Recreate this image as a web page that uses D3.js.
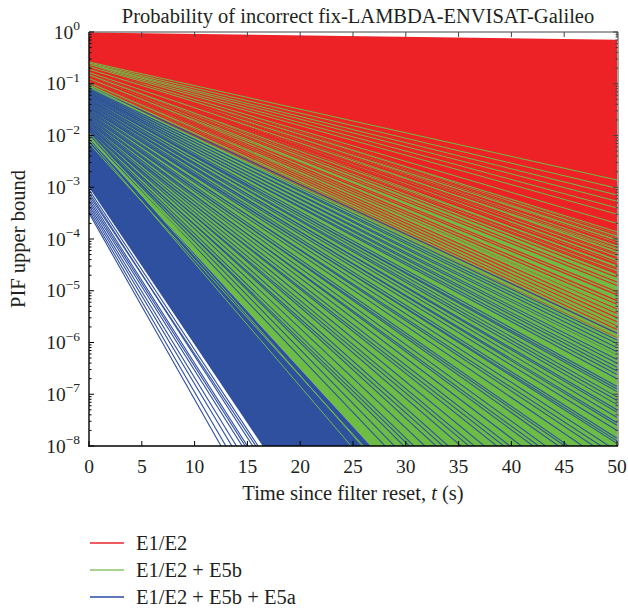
<!DOCTYPE html>
<html>
<head>
<meta charset="utf-8">
<script src="https://cdn.jsdelivr.net/npm/d3@7"></script>
<style>
  body { margin: 0; background: #fff; }
  svg { font-family: "Liberation Serif", "DejaVu Serif", serif; }
</style>
</head>
<body>
<svg id="chart" width="628" height="608"></svg>
<script>
// ---- data (log10 of PIF at t = 0 s and t = 50 s) ----
const xTicks = [0, 5, 10, 15, 20, 25, 30, 35, 40, 45, 50];
const yExponents = [0, -1, -2, -3, -4, -5, -6, -7, -8];
const seriesNames = ["E1/E2", "E1/E2 + E5b", "E1/E2 + E5b + E5a"];

// dense cores of each group, edges as [start, end]
const redBandTop = [-0.01, -0.15];
const redBandBottom = [-0.6, -3.9];
const greenBandTop = [-0.57, -2.9];
const greenBandBottom = [-2.05, -13.2];
const blueBandTop = [-2.05, -13.2];
const blueBandBottom = [-3.0, -18.2];

// single visible lines
const redLines = [
  [-0.60, -3.92], [-0.61, -3.97], [-0.62, -4.00], [-0.62, -4.05], [-0.63, -4.09], [-0.64, -4.11],
  [-0.65, -4.16], [-0.66, -4.20], [-0.67, -4.22], [-0.68, -4.28], [-0.69, -4.31], [-0.70, -4.36],
  [-0.71, -4.38], [-0.72, -4.44], [-0.73, -4.48], [-0.74, -4.50], [-0.75, -4.56], [-0.76, -4.59],
  [-0.77, -4.64], [-0.78, -4.67], [-0.80, -4.74], [-0.82, -4.83], [-0.83, -4.90], [-0.85, -5.02],
  [-0.86, -5.08], [-0.88, -5.19], [-0.90, -5.26], [-0.91, -5.35], [-0.93, -5.44], [-0.95, -5.52],
  [-0.97, -5.60], [-0.99, -5.68], [-1.01, -5.75], [-1.03, -5.82], [-1.05, -5.90]
];
const greenLines = [
  [-0.58, -2.86], [-0.60, -3.02], [-0.62, -3.15], [-0.63, -3.27], [-0.65, -3.40], [-0.67, -3.52],
  [-0.70, -3.70], [-0.72, -3.86], [-0.75, -4.02], [-0.78, -4.20], [-0.80, -4.35], [-0.83, -4.52],
  [-0.86, -4.70], [-0.90, -4.92], [-0.94, -5.12], [-0.98, -5.33], [-1.02, -5.50]
];
const greenMidLines = [
  [-1.02, -5.70], [-1.05, -6.05], [-1.08, -5.88], [-1.11, -6.30], [-1.14, -6.50], [-1.17, -6.26],
  [-1.20, -6.78], [-1.23, -7.00], [-1.26, -6.72], [-1.28, -7.25], [-1.31, -7.50], [-1.33, -7.20],
  [-1.36, -7.75], [-1.38, -8.00], [-1.41, -7.68], [-1.43, -8.25], [-1.47, -8.55], [-1.49, -8.15],
  [-1.53, -8.95], [-1.57, -9.30], [-1.59, -8.90], [-1.63, -9.65], [-1.67, -10.0], [-1.71, -9.50],
  [-1.75, -10.4], [-1.79, -10.8], [-1.83, -10.2], [-1.87, -11.4], [-1.91, -11.7], [-1.95, -12.3],
  [-1.99, -12.0]
];
const greenLowLines = [
  [-1.95, -13.0], [-2.00, -13.6], [-2.08, -14.0], [-2.15, -13.4]
];
const blueLines = [
  [-1.04, -5.82], [-1.06, -5.95], [-1.07, -6.10], [-1.09, -6.02], [-1.10, -6.25], [-1.12, -6.18],
  [-1.13, -6.40], [-1.15, -6.33], [-1.16, -6.55], [-1.18, -6.48], [-1.19, -6.70], [-1.21, -6.62],
  [-1.22, -6.85], [-1.24, -6.95], [-1.25, -7.05], [-1.27, -6.90], [-1.29, -7.20], [-1.30, -7.12],
  [-1.32, -7.35], [-1.34, -7.45], [-1.35, -7.30], [-1.37, -7.60], [-1.39, -7.70], [-1.40, -7.55],
  [-1.42, -7.85], [-1.44, -7.95], [-1.46, -8.10], [-1.48, -7.90], [-1.50, -8.30], [-1.52, -8.45],
  [-1.54, -8.20], [-1.56, -8.65], [-1.58, -8.80], [-1.60, -9.00], [-1.62, -8.70], [-1.64, -9.20],
  [-1.66, -9.40], [-1.68, -9.10], [-1.70, -9.60], [-1.72, -9.85], [-1.74, -10.1], [-1.76, -9.70],
  [-1.78, -10.3], [-1.80, -10.6], [-1.82, -10.9], [-1.84, -10.4], [-1.86, -11.2], [-1.88, -11.5],
  [-1.90, -11.0], [-1.92, -11.8], [-1.94, -12.1], [-1.96, -12.4], [-1.98, -11.9], [-2.00, -12.7]
];
const blueSteepLines = [
  [-3.05, -18.5], [-3.10, -18.9], [-3.15, -18.5], [-3.20, -19.2], [-3.25, -19.3],
  [-3.30, -19.5], [-3.35, -20.0], [-3.40, -20.4], [-3.45, -21.0], [-3.50, -21.5]
];

const red = "#ec2227", green = "#6dbd45", blue = "#2f4f9f";
const legendColors = ["#e8262c", "#8ac56a", "#2a4aa6"];
const ink = "#231f20";

// ---- scales ----
const svg = d3.select("#chart");
const x = d3.scaleLinear().domain([0, 50]).range([89, 617]);
const y = d3.scaleLog().domain([1e-8, 1]).range([446, 32]);

const line = d3.line().x(d => x(d[0])).y(d => y(d[1]));
const pts = pair => [[0, Math.pow(10, pair[0])], [50, Math.pow(10, pair[1])]];

const area = d3.area()
  .x(d => x(d.t))
  .y0(d => y(d.lo))
  .y1(d => y(d.hi));
const band = (top, bottom) => [0, 1].map(i => ({
  t: i ? 50 : 0, hi: Math.pow(10, top[i]), lo: Math.pow(10, bottom[i])
}));

svg.append("clipPath").attr("id", "plotclip")
  .append("rect").attr("x", 89).attr("y", 32).attr("width", 529).attr("height", 414);

const plot = svg.append("g").attr("clip-path", "url(#plotclip)");

plot.append("path").attr("d", area(band(greenBandTop, greenBandBottom))).attr("fill", green);
plot.append("path").attr("d", area(band(redBandTop, redBandBottom))).attr("fill", red);

function drawLines(data, color, w) {
  plot.append("g").selectAll("path")
    .data(data)
    .enter()
    .append("path")
    .attr("d", d => line(pts(d)))
    .attr("fill", "none")
    .attr("stroke", color)
    .attr("stroke-width", w || 1.1)
}

// lines of the groups are interleaved like in the original plot
const n = Math.max(redLines.length, greenLines.length);
for (let i = 0; i < n; i++) {
  if (redLines[i]) drawLines([redLines[i]], red, 1.2);
  if (greenLines[i] && i % 2 == 0) drawLines([greenLines[i]], green, 1);
}
const m = Math.max(blueLines.length, greenMidLines.length);
for (let i = 0; i < m; i++) {
  if (blueLines[i]) drawLines([blueLines[i]], blue, 1.05);
  if (greenMidLines[i]) drawLines([greenMidLines[i]], green, 1.3);
}
plot.append("path").attr("d", area(band(blueBandTop, blueBandBottom))).attr("fill", blue);
drawLines(greenLowLines, green, 1);
drawLines(blueSteepLines, blue, 1.1);
drawLines(greenLines.filter((d, i) => i % 2 == 1), green, 1);

// ---- frame and ticks ----
const frame = svg.append("g");
frame.append("line").attr("x1", 89).attr("x2", 618).attr("y1", 32).attr("y2", 32)
  .attr("stroke", "#444").attr("stroke-width", 1);
frame.append("line").attr("x1", 618).attr("x2", 618).attr("y1", 32).attr("y2", 446)
  .attr("stroke", "#444").attr("stroke-width", 1);
frame.append("line").attr("x1", 89).attr("x2", 89).attr("y1", 32).attr("y2", 446.7)
  .attr("stroke", "#000").attr("stroke-width", 1.4);
frame.append("line").attr("x1", 88.3).attr("x2", 618).attr("y1", 446).attr("y2", 446)
  .attr("stroke", "#000").attr("stroke-width", 1.4);

const isMajor = v => Math.abs(Math.log10(v) - Math.round(Math.log10(v))) < 1e-9;
y.ticks().forEach(v => {
  const len = isMajor(v) ? 5 : 2.5;
  frame.append("line").attr("x1", 89).attr("x2", 89 + len).attr("y1", y(v)).attr("y2", y(v))
    .attr("stroke", "#000").attr("stroke-width", 1);
  frame.append("line").attr("x1", 618).attr("x2", 618 - len).attr("y1", y(v)).attr("y2", y(v))
    .attr("stroke", "#444").attr("stroke-width", 1);
});
xTicks.forEach(t => {
  frame.append("line").attr("x1", x(t)).attr("x2", x(t)).attr("y1", 446).attr("y2", 441)
    .attr("stroke", "#000").attr("stroke-width", 1);
  frame.append("line").attr("x1", x(t)).attr("x2", x(t)).attr("y1", 32).attr("y2", 37)
    .attr("stroke", "#444").attr("stroke-width", 1);
  svg.append("text")
    .attr("x", x(t)).attr("y", 473)
    .attr("text-anchor", "middle")
    .style("font-size", "19.5px")
    .attr("fill", ink)
    .text(t);
});

yExponents.forEach(e => {
  const label = svg.append("text")
    .attr("x", 80).attr("y", y(Math.pow(10, e)) + 6.5)
    .attr("text-anchor", "end")
    .attr("fill", ink)
    .style("font-size", "19.5px");
  label.append("tspan").text("10");
  label.append("tspan").attr("dy", -8.5).style("font-size", "13.5px")
    .text(e === 0 ? "0" : "\u2212" + Math.abs(e));
});

// ---- titles ----
svg.append("text")
  .attr("x", 358).attr("y", 23)
  .attr("text-anchor", "middle")
  .attr("fill", ink)
  .style("font-size", "20.5px")
  .text("Probability of incorrect fix-LAMBDA-ENVISAT-Galileo");

const xTitle = svg.append("text")
  .attr("x", 353).attr("y", 500)
  .attr("text-anchor", "middle")
  .attr("fill", ink)
  .style("font-size", "20.5px");
xTitle.append("tspan").text("Time since filter reset, ");
xTitle.append("tspan").style("font-style", "italic").text("t");
xTitle.append("tspan").text(" (s)");

svg.append("text")
  .attr("transform", "translate(25,239) rotate(-90)")
  .attr("text-anchor", "middle")
  .attr("fill", ink)
  .style("font-size", "20.5px")
  .text("PIF upper bound");

// ---- legend ----
seriesNames.forEach((name, i) => {
  const ly = 543 + i * 27;
  svg.append("line")
    .attr("x1", 90).attr("x2", 124).attr("y1", ly).attr("y2", ly)
    .attr("stroke", legendColors[i]).attr("stroke-width", 1.3);
  svg.append("text")
    .attr("x", 136).attr("y", ly + 7)
    .attr("fill", ink)
    .style("font-size", "20.5px")
    .text(name);
});
</script>
</body>
</html>
